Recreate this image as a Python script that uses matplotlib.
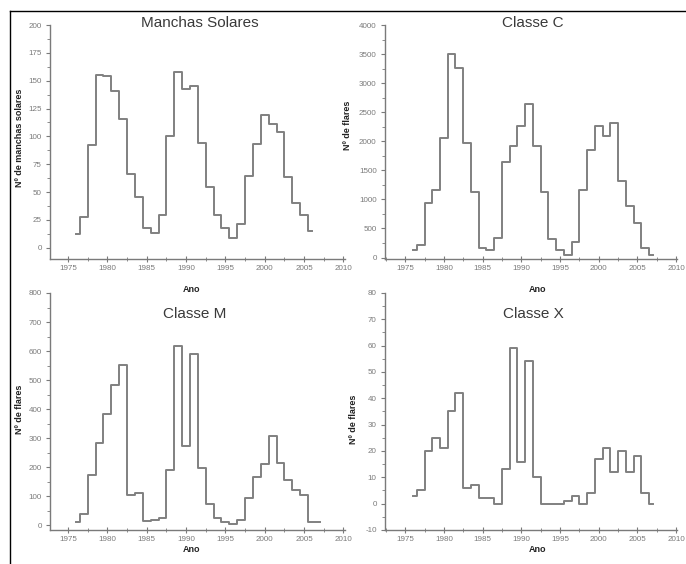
import matplotlib
matplotlib.use("Agg")
import matplotlib.pyplot as plt
from matplotlib.ticker import MultipleLocator
from matplotlib.lines import Line2D

plt.rcParams['font.family'] = ['Liberation Sans', 'DejaVu Sans']
plt.rcParams['axes.unicode_minus'] = False

years_ss = list(range(1976, 2007))
sunspots = [12.6, 27.5, 92.5, 155.4, 154.6, 140.4, 115.9, 66.6, 45.9, 17.9, 13.4,
            29.4, 100.2, 157.6, 142.6, 145.7, 94.3, 54.6, 29.9, 17.5, 8.6, 21.5,
            64.3, 93.3, 119.6, 111.0, 104.0, 63.7, 40.4, 29.8, 15.2]

years_fl = list(range(1976, 2008))
class_c = [130, 220, 942, 1159, 2055, 3500, 3254, 1970, 1130, 166, 131, 337, 1639,
           1913, 2255, 2638, 1913, 1130, 314, 131, 46, 274, 1170, 1856, 2255, 2084,
           2312, 1313, 885, 588, 160, 46]
class_m = [9, 38, 174, 282, 382, 484, 553, 103, 112, 13, 18, 26, 191, 619, 272, 590,
           198, 73, 23, 11, 3, 19, 92, 166, 212, 307, 214, 157, 120, 103, 11, 9]
class_x = [3, 5, 20, 25, 21, 35, 42, 6, 7, 2, 2, 0, 13, 59, 16, 54, 10, 0, 0, 0, 1,
           3, 0, 4, 17, 21, 12, 20, 12, 18, 4, 0]

W, H = 686, 564
fig = plt.figure(figsize=(W / 100, H / 100), dpi=100)

def frac_box(x0, x1, ytop, ybot):
    return [x0 / W, 1 - ybot / H, (x1 - x0) / W, (ybot - ytop) / H]

line_col = '#808080'
tick_col = '#7a7a7a'

panels = [
    dict(box=frac_box(50, 345, 25, 259), x=years_ss, y=sunspots, ylim=(-10, 200),
         major=25, minor=12.5, title='Manchas Solares', tpos=(200, 23),
         ylabel='Nº de manchas solares', ylpos=(20, 138), anopos=(192, 289),
         xlim=(1972.7, 2010.2)),
    dict(box=frac_box(385, 677, 25, 259), x=years_fl, y=class_c, ylim=(-25, 4000),
         major=500, minor=250, title='Classe C', tpos=(533, 23),
         ylabel='Nº de flares', ylpos=(347, 125), anopos=(538, 289),
         xlim=(1972.4, 2010.1)),
    dict(box=frac_box(50, 345, 293, 530), x=years_fl, y=class_m, ylim=(-17, 800),
         major=100, minor=50, title='Classe M', tpos=(195, 314),
         ylabel='Nº de flares', ylpos=(20, 409), anopos=(192, 549),
         xlim=(1972.7, 2010.2)),
    dict(box=frac_box(385, 677, 293, 530), x=years_fl, y=class_x, ylim=(-10, 80),
         major=10, minor=5, title='Classe X', tpos=(533, 314),
         ylabel='Nº de flares', ylpos=(353, 419), anopos=(538, 549),
         xlim=(1972.4, 2010.1)),
]

for p in panels:
    ax = fig.add_axes(p['box'])
    ax.step(p['x'], p['y'], where='mid', color=line_col, lw=1.4)
    ax.set_xlim(*p['xlim'])
    ax.set_ylim(*p['ylim'])
    ax.xaxis.set_major_locator(MultipleLocator(5))
    ax.xaxis.set_minor_locator(MultipleLocator(2.5))
    ax.yaxis.set_major_locator(MultipleLocator(p['major']))
    ax.yaxis.set_minor_locator(MultipleLocator(p['minor']))
    for s in ['top', 'right']:
        ax.spines[s].set_visible(False)
    for s in ['left', 'bottom']:
        ax.spines[s].set_color(tick_col)
        ax.spines[s].set_linewidth(1.0)
    ax.tick_params(axis='x', which='major', direction='inout', length=4, width=0.8,
                   colors=tick_col, labelsize=5.8, pad=2)
    ax.tick_params(axis='x', which='minor', direction='inout', length=3, width=0.6,
                   colors=tick_col)
    ax.tick_params(axis='y', which='major', direction='out', length=3, width=0.8,
                   colors=tick_col, labelsize=5.8, pad=3)
    ax.tick_params(axis='y', which='minor', direction='out', length=2, width=0.6,
                   colors=tick_col)
    ax.patch.set_alpha(0)
    fig.text(p['tpos'][0] / W, 1 - p['tpos'][1] / H, p['title'], ha='center',
             va='center', fontsize=11, color='#3a3a3a')
    fig.text(p['ylpos'][0] / W, 1 - p['ylpos'][1] / H, p['ylabel'], ha='center',
             va='center', rotation=90, fontsize=6.5, fontweight='bold', color='#222222')
    fig.text(p['anopos'][0] / W, 1 - p['anopos'][1] / H, 'Ano', ha='center',
             va='center', fontsize=6.5, fontweight='bold', color='#222222')

fig.add_artist(Line2D([10 / W, 1], [1 - 11 / H, 1 - 11 / H], color='black', lw=1.0,
                      transform=fig.transFigure))
fig.add_artist(Line2D([10 / W, 10 / W], [0, 1 - 11 / H], color='black', lw=1.0,
                      transform=fig.transFigure))

fig.savefig('out.png', dpi=100)
